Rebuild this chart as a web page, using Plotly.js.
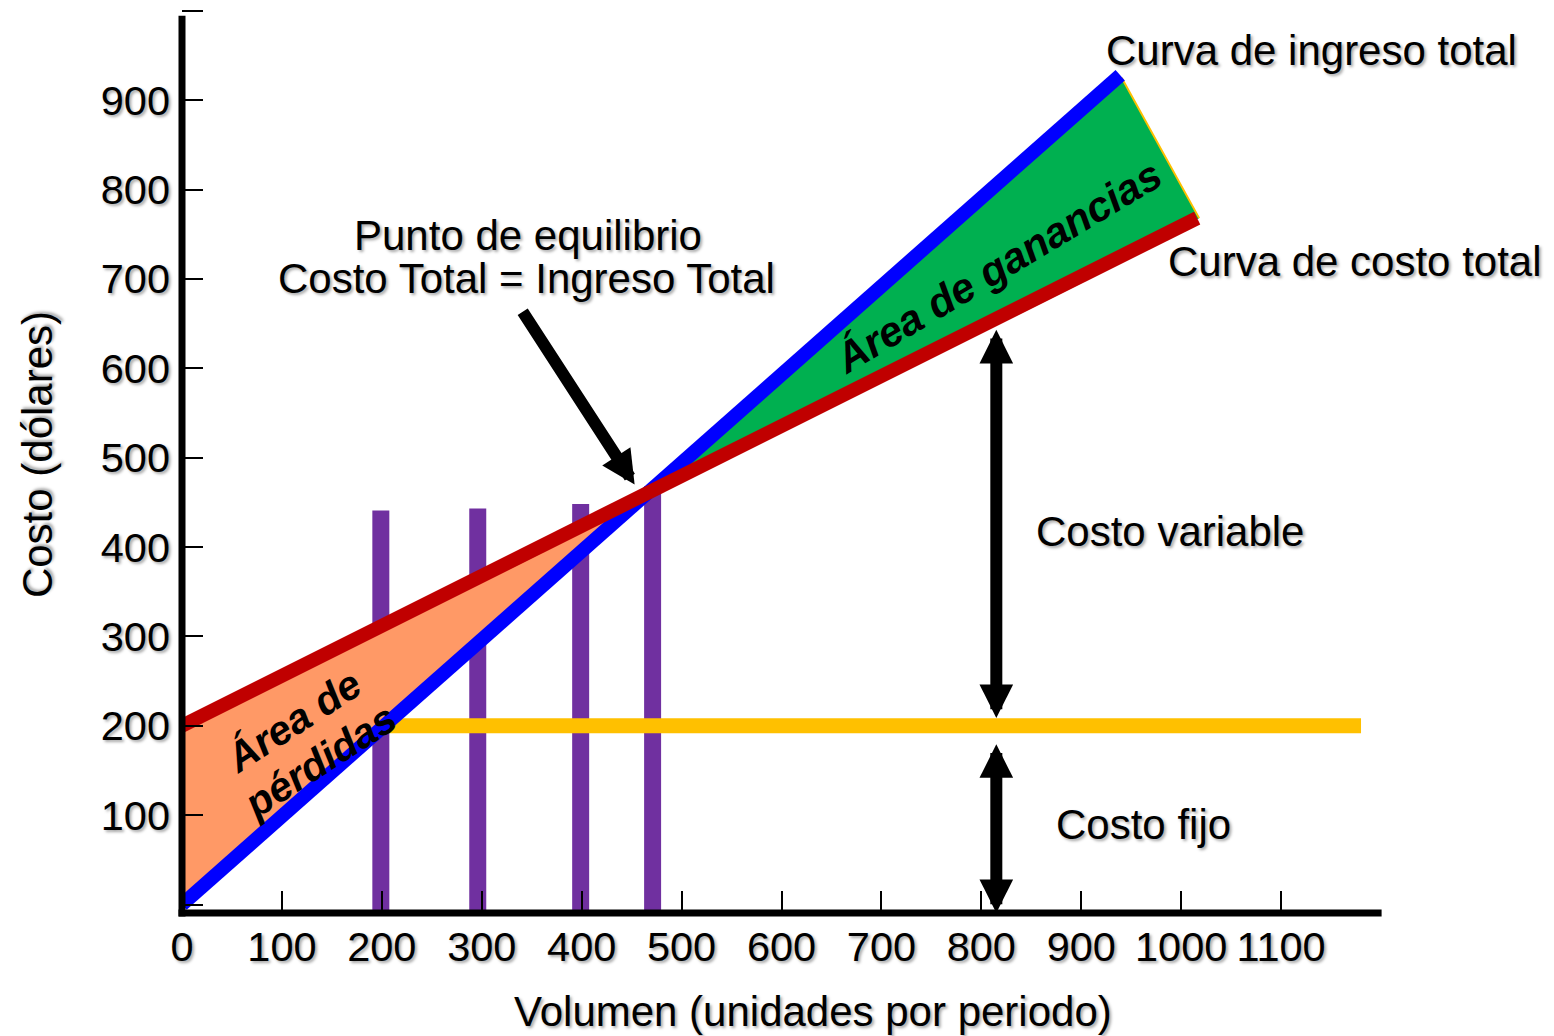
<!DOCTYPE html>
<html>
<head>
<meta charset="utf-8">
<script src="https://cdn.plot.ly/plotly-3.0.1.min.js"></script>
<style>html,body{margin:0;padding:0;background:#ffffff;}</style>
</head>
<body>
<div id="chart" style="width:1554px;height:1036px;"></div>
<script>
// ---- data ----
const revenueX = [0, 939];
const revenueY = [0, 928];
const costX = [0, 1016];
const costY = [200, 768];
const fixedX = [200, 1180];
const fixedY = [200, 200];
const lossX = [0, 465, 0];
const lossY = [200, 460, 0];
const profitX = [465, 941, 1018];
const profitY = [460, 924, 768];
const barX = [199, 296, 399, 471];
const barTop = [441, 443, 448, 468];
const barBase = -20;
const xTickVals = [0, 100, 200, 300, 400, 500, 600, 700, 800, 900, 1000, 1100];
const xTickText = ['0', '100', '200', '300', '400', '500', '600', '700', '800', '900', '1000', '1100'];
const yTickVals = [0, 100, 200, 300, 400, 500, 600, 700, 800, 900, 1000];
const yTickText = ['', '100', '200', '300', '400', '500', '600', '700', '800', '900', ''];
const breakTail = [340, 665];
const breakTip = [453, 470];
const varArrowX = 815;
const varArrowY = [207, 643];
const fixArrowY = [181, -9.5];

const FONT = 'Arial, "Liberation Sans", sans-serif';
const SH = '2px 2px 3px rgba(0,0,0,0.35)';
const txtFont = {family: FONT, size: 42, color: '#000', shadow: SH};

const traces = [
  {x: lossX, y: lossY, type: 'scatter', mode: 'lines', fill: 'toself',
   fillcolor: '#FF9966', line: {width: 0}, hoverinfo: 'skip'},
  {x: profitX, y: profitY, type: 'scatter', mode: 'lines', fill: 'toself',
   fillcolor: '#00B050', line: {width: 2, color: '#FFC000'}, hoverinfo: 'skip'},
  {x: fixedX, y: fixedY, type: 'scatter', mode: 'lines',
   line: {width: 15, color: '#FFC000'}, hoverinfo: 'skip'},
  {x: revenueX, y: revenueY, type: 'scatter', mode: 'lines',
   line: {width: 14, color: '#0000FF'}, hoverinfo: 'skip'},
  {x: costX, y: costY, type: 'scatter', mode: 'lines',
   line: {width: 14, color: '#C00000'}, hoverinfo: 'skip'},
  {x: barX, y: barTop.map(t => t - barBase), base: barBase, type: 'bar', width: 17,
   marker: {color: '#7030A0', line: {width: 0}}, hoverinfo: 'skip'}
];

function lbl(text, x, y, extra) {
  return Object.assign({text: text, x: x, y: y, xref: 'x', yref: 'y', showarrow: false,
    xanchor: 'center', yanchor: 'middle', font: txtFont}, extra || {});
}
function arrow(tip, tail, extra) {
  return Object.assign({text: '', x: tip[0], y: tip[1], ax: tail[0], ay: tail[1],
    xref: 'x', yref: 'y', axref: 'x', ayref: 'y', showarrow: true,
    arrowhead: 2, arrowsize: 0.56, arrowwidth: 12, arrowcolor: '#000', standoff: 0}, extra || {});
}
const boldFont = {family: FONT, size: 41, color: '#000', weight: 'bold', style: 'italic'};

const annotations = [
  lbl('Curva de ingreso total', 1130.6, 956),
  lbl('Curva de costo total', 1173.6, 719),
  lbl('Punto de equilibrio', 346, 749),
  lbl('Costo Total = Ingreso Total', 345, 701),
  lbl('Costo variable', 988.5, 417),
  lbl('Costo fijo', 962.5, 89),
  lbl('Área de ganancias', 817, 714, {textangle: -31, font: {family: FONT, size: 42, color: '#000', weight: 'bold', style: 'italic'}}),
  lbl('Área de', 112, 205, {textangle: -33, font: boldFont}),
  lbl('pérdidas', 138, 161, {textangle: -33, font: boldFont}),
  arrow(breakTip, breakTail),
  arrow([varArrowX, varArrowY[1]], [varArrowX, varArrowY[0]],
        {arrowside: 'end+start', startarrowhead: 2, startarrowsize: 0.56, startstandoff: 0}),
  arrow([varArrowX, fixArrowY[1]], [varArrowX, fixArrowY[0]],
        {arrowside: 'end+start', startarrowhead: 2, startarrowsize: 0.56, startstandoff: 0}),
  {text: 'Volumen (unidades por periodo)', xref: 'paper', yref: 'paper', x: 0.526, y: -0.109,
   showarrow: false, xanchor: 'center', yanchor: 'middle', font: txtFont},
  {text: 'Costo (dólares)', xref: 'paper', yref: 'paper', x: -0.1206, y: 0.507, textangle: -90,
   showarrow: false, xanchor: 'center', yanchor: 'middle', font: txtFont}
];

const tickFont = {family: FONT, size: 41.5, color: '#000', shadow: SH};

const layout = {
  width: 1554, height: 1036, autosize: false,
  margin: {l: 182, r: 172.6, t: 9.2, b: 122.5, pad: 0},
  paper_bgcolor: '#fff', plot_bgcolor: '#fff',
  showlegend: false,
  xaxis: {range: [0, 1200], tickvals: xTickVals, ticktext: xTickText, ticks: 'inside',
          ticklen: 22, tickwidth: 2, tickcolor: '#000', showline: false, showgrid: false,
          zeroline: false, tickfont: tickFont, ticklabelstandoff: 5, fixedrange: true},
  yaxis: {range: [-9.5, 1002], tickvals: yTickVals, ticktext: yTickText, ticks: 'inside',
          ticklen: 21, tickwidth: 2, tickcolor: '#000', showline: false, showgrid: false,
          zeroline: false, tickfont: tickFont, ticklabelstandoff: 11, fixedrange: true},
  shapes: [
    {type: 'line', xref: 'paper', yref: 'paper', x0: 0, x1: 0, y0: -0.0039, y1: 0.9925,
     line: {color: '#000', width: 7}},
    {type: 'line', xref: 'paper', yref: 'paper', x0: -0.0029, x1: 1.0005, y0: 0, y1: 0,
     line: {color: '#000', width: 7}}
  ],
  annotations: annotations
};

Plotly.newPlot('chart', traces, layout, {staticPlot: true, displayModeBar: false});
</script>
</body>
</html>
